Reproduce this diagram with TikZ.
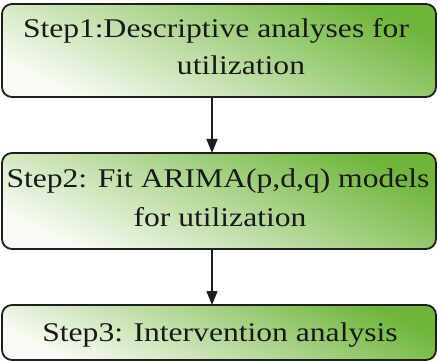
\documentclass[tikz,border=0pt]{standalone}
\usepackage{fontspec}
\setmainfont[FakeStretch=1.17]{Liberation Serif}
\usetikzlibrary{arrows.meta}
\definecolor{stepgreen}{RGB}{112,182,60}
\definecolor{steplight}{RGB}{248,251,244}
\definecolor{edgecol}{RGB}{30,30,30}
\tikzset{
  stepbox/.style={draw=edgecol, line width=1.8pt, rounded corners=10pt,
    top color=stepgreen, bottom color=steplight, middle color=stepgreen!50!steplight,
    shading angle=-25},
  steptext/.style={font=\fontsize{27}{32}\selectfont, anchor=base, inner sep=0pt, text=black!90},
  flow/.style={draw=edgecol, line width=1.3pt, -{Triangle[width=11pt,length=14pt]}}
}
\begin{document}
\begin{tikzpicture}[x=1pt,y=1pt]
\useasboundingbox (0,0) rectangle (438,361);
\path[stepbox] (2,264) rectangle (436,357);
\node[steptext] (t1a) at (216,323.5) {Step1:Descriptive analyses for};
\node[steptext] (t1b) at (241,286) {utilization};
\path[stepbox] (2,112) rectangle (436,208);
\node[steptext] (t2a) at (218,173) {Step2: Fit ARIMA(p,d,q) models};
\node[steptext] (t2b) at (220,134) {for utilization};
\path[stepbox] (2,1) rectangle (436,56);
\node[steptext] (t3) at (220,19.5) {Step3: Intervention analysis};
\coordinate (a1s) at (212,264);
\coordinate (a1e) at (212,208);
\coordinate (a2s) at (212,112);
\coordinate (a2e) at (212,56);
\draw[flow] (a1s) -- (a1e);
\draw[flow] (a2s) -- (a2e);
\end{tikzpicture}
\end{document}
